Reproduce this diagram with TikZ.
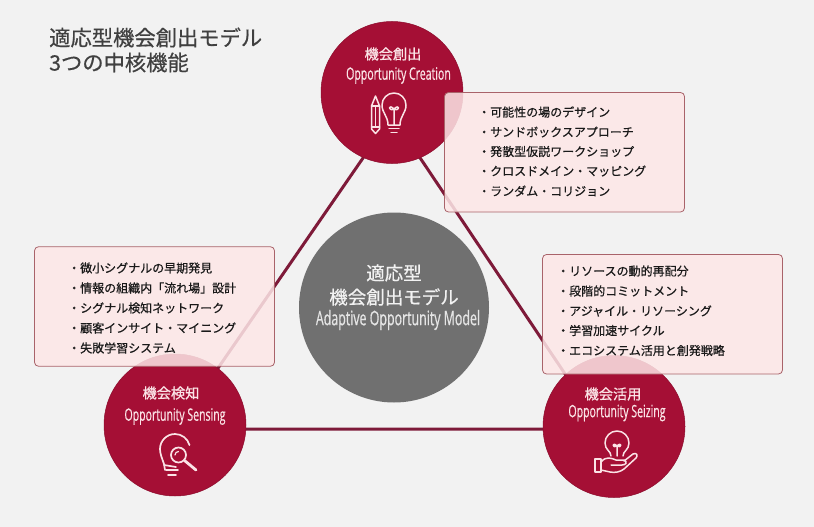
\documentclass[tikz,border=0pt]{standalone}
\usepackage{fontspec}
\newfontfamily\jpm[FakeBold=0.55]{Noto Sans CJK JP}
\newfontfamily\jph[FakeBold=0.9]{Noto Sans CJK JP}
\newfontfamily\enf[FakeStretch=0.62,FakeBold=0.5]{Open Sans}
\setmainfont{Noto Sans CJK JP}
\definecolor{bgc}{HTML}{F2F2F2}
\definecolor{crim}{HTML}{A50F35}
\definecolor{conn}{HTML}{7E1A39}
\definecolor{boxf}{HTML}{FDE7E7}
\definecolor{boxd}{HTML}{A9636A}
\definecolor{greyc}{HTML}{707070}
\definecolor{iconc}{HTML}{FBE3E6}
\definecolor{titlec}{HTML}{404040}
\tikzset{
  x=1pt,y=-1pt,
  hub/.style={circle,fill=crim,draw=crim!85!black,line width=.5pt,minimum size=142pt,inner sep=0pt},
  core/.style={circle,fill=greyc,minimum size=190pt,inner sep=0pt},
  connector/.style={draw=conn,line width=3pt},
  infobox/.style={rectangle,rounded corners=4pt,fill=boxf,fill opacity=.85,draw=boxd,line width=.8pt,text opacity=1,minimum width=240pt,minimum height=119.5pt,inner sep=0pt},
  hubjp/.style={text=iconc,font=\jph\fontsize{14.2}{14.2}\selectfont,inner sep=0pt},
  huben/.style={text=iconc,font=\enf\fontsize{17}{17}\selectfont,inner sep=0pt},
  item/.style={text=black!90,font=\jpm\fontsize{12}{12}\selectfont,anchor=west,inner sep=0pt},
  titlet/.style={text=titlec,font=\jpm\fontsize{21.3}{21.3}\selectfont,anchor=west,inner sep=0pt},
  corejp/.style={text=white!95!black,font=\jpm\fontsize{18.5}{18.5}\selectfont,inner sep=0pt},
  icon/.style={draw=iconc,line width=1.5pt,line cap=round,line join=round,fill=none},
}
\begin{document}
\begin{tikzpicture}
\useasboundingbox[fill=bgc] (0,0) rectangle (814,527);
% vertices of the triangle
\coordinate (vt) at (392,116);
\coordinate (vl) at (176,429);
\coordinate (vr) at (602,429);
\draw[connector,line join=miter] (vt) -- (vl) -- (vr) -- cycle;
% hubs
\node[hub] (create) at (392,92.5) {};
\node[hub] (sense) at (175,425) {};
\node[hub] (seize) at (614,426.5) {};
\node[core] (model) at (394,307.5) {};
% title
\node[titlet] (t1) at (49,37.5) {適応型機会創出モデル};
\node[titlet] (t2) at (49,62.5) {3つの中核機能};
% core text
\node[corejp] (c1) at (394,273) {適応型};
\node[corejp] (c2) at (394,297) {機会創出モデル};
\node[text=white!90!black,font=\enf\fontsize{20}{20}\selectfont,inner sep=0pt] (c3) at (398,320) {Adaptive Opportunity Model};
% hub text
\node[hubjp] (h1) at (393,54) {機会創出};
\node[huben] (h1e) at (398.5,75.5) {Opportunity Creation};
\node[hubjp] (h2) at (171,393) {機会検知};
\node[huben] (h2e) at (175,416.5) {Opportunity Sensing};
\node[hubjp] (h3) at (613,394) {機会活用};
\node[huben] (h3e) at (617,413) {Opportunity Seizing};
% icons
% pencil + bulb
\draw[icon] (371.5,106) -- (375.5,96) -- (379.5,106) -- (379.5,129) -- (375.5,133.5) -- (371.5,129) -- cycle;
\draw[icon] (371.5,106) -- (379.5,106) (371.5,127) -- (379.5,127);
\draw[icon] (375.5,106) -- (375.5,127);
\draw[icon] (388,125) .. controls (388,116) and (382,113) .. (382,105) arc[start angle=180,end angle=0,radius=12pt] .. controls (406,113) and (400,116) .. (400,125) -- cycle;
\draw[icon] (389,128.5) -- (399,128.5) (391,132.5) -- (397,132.5);
\draw[icon] (394,125) -- (394,109) (394,109) .. controls (388,103) and (388,112) .. (394,109) (394,109) .. controls (400,103) and (400,112) .. (394,109);
% search bulb
\draw[icon,line width=1.7pt] (165,470) -- (164,464) .. controls (162,458) and (160,454) .. (160,449) arc[start angle=180,end angle=15,radius=15pt];
\draw[icon,line width=1.7pt] (164,465) -- (176,467);
\draw[icon,line width=1.7pt] (166,470) -- (178,470) (168,475) -- (176,475);
\draw[icon,line width=1.7pt] (178.5,455) circle[radius=7.5pt];
\draw[icon,line width=1.2pt] (175,455) arc[start angle=180,end angle=90,radius=3.5pt];
\draw[icon,line width=2.8pt] (184.5,460.5) -- (196,470);
% bulb in hand
\draw[icon] (611,456) .. controls (611,451) and (605,450) .. (605,443) arc[start angle=180,end angle=0,radius=12pt] .. controls (629,450) and (623,451) .. (623,456);
\draw[icon] (617,456) -- (617,446) (617,446) .. controls (612,441) and (612,449) .. (617,446) (617,446) .. controls (622,441) and (622,449) .. (617,446);
\draw[icon] (595,459) -- (601,459) -- (601,472) -- (595,472) -- cycle;
\draw[icon] (601,462) .. controls (606,456) and (611,458) .. (616,460) -- (624,460) .. controls (628,462) and (626,465) .. (622,465) -- (611,465);
\draw[icon] (624,461) -- (633,454) .. controls (637,452) and (638,456) .. (636,458) -- (624,469) .. controls (620,472) and (615,473) .. (610,472) -- (601,470);
% boxes
\node[infobox] (b1) at (564.5,152.25) {};
\node[infobox] (b2) at (154.5,306.5) {};
\node[infobox] (b3) at (662.5,314.25) {};
% items
\node[item] (i11) at (478,112) {・可能性の場のデザイン};
\node[item] (i12) at (478,132) {・サンドボックスアプローチ};
\node[item] (i13) at (478,151.5) {・発散型仮説ワークショップ};
\node[item] (i14) at (478,171) {・クロスドメイン・マッピング};
\node[item] (i15) at (478,191) {・ランダム・コリジョン};
\node[item] (i21) at (68,268) {・微小シグナルの早期発見};
\node[item] (i22) at (68,288) {・情報の組織内「流れ場」設計};
\node[item] (i23) at (68,308) {・シグナル検知ネットワーク};
\node[item] (i24) at (68,328) {・顧客インサイト・マイニング};
\node[item] (i25) at (68,348) {・失敗学習システム};
\node[item] (i31) at (557,271) {・リソースの動的再配分};
\node[item] (i32) at (557,291) {・段階的コミットメント};
\node[item] (i33) at (557,311) {・アジャイル・リソーシング};
\node[item] (i34) at (557,330.5) {・学習加速サイクル};
\node[item] (i35) at (557,350.5) {・エコシステム活用と創発戦略};
\end{tikzpicture}
\end{document}
